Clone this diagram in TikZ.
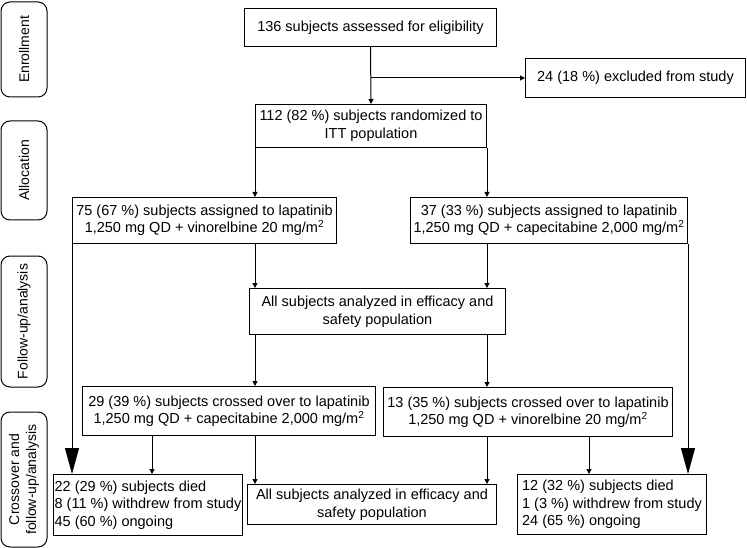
\documentclass[tikz,border=0pt]{standalone}
\usepackage{fontspec}
\setmainfont{Liberation Sans}
\usetikzlibrary{arrows.meta}

\tikzset{
	flowbox/.style={rectangle, draw=black, line width=1pt, inner sep=3pt,
		anchor=north west, align=center,
		font=\fontsize{14.5}{17.5}\selectfont},
	listbox/.style={flowbox, align=left},
	sidebox/.style={rectangle, rounded corners=9pt, draw=black, line width=1pt,
		rotate=90, align=center, inner sep=2pt,
		font=\fontsize{14}{17}\selectfont},
	flowarrow/.style={line width=1pt, -{Triangle[width=5pt,length=5pt]}},
	bigarrow/.style={line width=1pt, -{Triangle[width=14pt,length=26pt]}}
}

\begin{document}
\begin{tikzpicture}[x=1pt,y=-1pt]
	\useasboundingbox (0,0) rectangle (747,548);

	% stage labels on the left
	\node[sidebox, minimum width=95pt, minimum height=46pt] (enrollment) at (24,49.5) {Enrollment};
	\node[sidebox, minimum width=99pt, minimum height=46pt] (allocation) at (24,170.5) {Allocation};
	\node[sidebox, minimum width=131pt, minimum height=46pt] (followup) at (24,321.5) {Follow-up/analysis};
	\node[sidebox, minimum width=135pt, minimum height=46pt] (crossover) at (24,479.5) {Crossover and\\follow-up/analysis};

	% enrollment and randomization
	\node[flowbox, minimum width=252pt, minimum height=38pt] (assessed) at (244,8)
		{136 subjects assessed for eligibility};
	\node[flowbox, minimum width=220pt, minimum height=39pt] (excluded) at (525,58)
		{24 (18~\%) excluded from study};
	\node[flowbox, minimum width=231pt, minimum height=43pt] (randomized) at (255,104)
		{112 (82~\%) subjects randomized to\\ITT population};

	% treatment arms
	\node[flowbox, minimum width=264pt, minimum height=46pt] (armvin) at (72,197)
		{75 (67~\%) subjects assigned to lapatinib\\1,250 mg QD + vinorelbine 20 mg/m\textsuperscript{2}};
	\node[flowbox, minimum width=277pt, minimum height=46pt] (armcap) at (410,197)
		{37 (33~\%) subjects assigned to lapatinib\\1,250 mg QD + capecitabine 2,000 mg/m\textsuperscript{2}};
	\node[flowbox, minimum width=256pt, minimum height=46pt] (analyzed) at (249,288)
		{All subjects analyzed in efficacy and\\safety population};

	% crossover
	\node[flowbox, minimum width=293pt, minimum height=49pt] (crossvin) at (82,386)
		{29 (39~\%) subjects crossed over to lapatinib\\1,250 mg QD + capecitabine 2,000 mg/m\textsuperscript{2}};
	\node[flowbox, minimum width=289pt, minimum height=49pt] (crosscap) at (383,387)
		{13 (35~\%) subjects crossed over to lapatinib\\1,250 mg QD + vinorelbine 20 mg/m\textsuperscript{2}};

	% outcomes
	\node[listbox, minimum width=189pt, minimum height=61pt, inner sep=1pt] (outvin) at (53,474)
		{22 (29~\%) subjects died\\8 (11~\%) withdrew from study\\45 (60~\%) ongoing};
	\node[flowbox, minimum width=249pt, minimum height=40pt] (analyzedx) at (247,484)
		{All subjects analyzed in efficacy and\\safety population};
	\node[listbox, minimum width=189pt, minimum height=60pt, inner sep=1pt] (outcap) at (517,474)
		{12 (32~\%) subjects died\\1 (3~\%) withdrew from study\\24 (65~\%) ongoing};

	% connectors
	\draw[flowarrow] (assessed.south) -- (randomized.north);
	\draw[flowarrow] (assessed.south |- excluded.west) -- (excluded.west);
	\draw[flowarrow] (randomized.south west) -- (randomized.south west |- armvin.north);
	\draw[flowarrow] (randomized.south east) -- (randomized.south east |- armcap.north);
	\draw[flowarrow] (randomized.south west |- armvin.south) -- (randomized.south west |- analyzed.north);
	\draw[flowarrow] (randomized.south east |- armcap.south) -- (randomized.south east |- analyzed.north);
	\draw[flowarrow] (randomized.south west |- analyzed.south) -- (randomized.south west |- crossvin.north);
	\draw[flowarrow] (randomized.south east |- analyzed.south) -- (randomized.south east |- crosscap.north);
	\draw[flowarrow] (152,0 |- crossvin.south) -- (152,0 |- outvin.north);
	\draw[flowarrow] (randomized.south west |- crossvin.south) -- (randomized.south west |- analyzedx.north);
	\draw[flowarrow] (randomized.south east |- crosscap.south) -- (randomized.south east |- analyzedx.north);
	\draw[flowarrow] (589,0 |- crosscap.south) -- (589,0 |- outcap.north);
	\draw[bigarrow] (armvin.south west) -- (armvin.south west |- outvin.north);
	\draw[bigarrow] (armcap.south east) -- (armcap.south east |- outcap.north);
\end{tikzpicture}
\end{document}
